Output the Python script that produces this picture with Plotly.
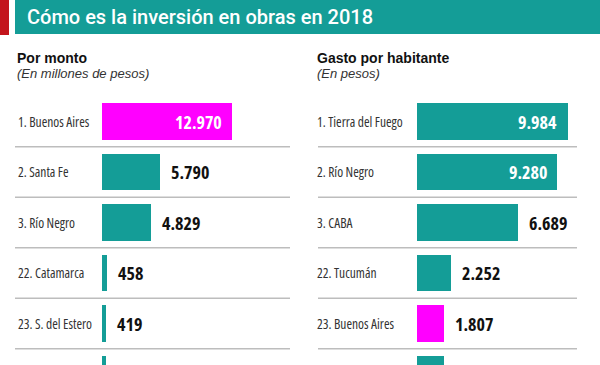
import plotly.graph_objects as go

# ---- data ----
monto_labels = ["1. Buenos Aires", "2. Santa Fe", "3. Río Negro", "22. Catamarca", "23. S. del Estero", "24."]
monto_values = [12970, 5790, 4829, 458, 419, 350]

hab_labels = ["1. Tierra del Fuego", "2. Río Negro", "3. CABA", "22. Tucumán", "23. Buenos Aires", "24."]
hab_values = [9984, 9280, 6689, 2252, 1807, 1780]

title_text = "Cómo es la inversión en obras en 2018"
left_head = "Por monto"
left_sub = "(En millones de pesos)"
right_head = "Gasto por habitante"
right_sub = "(En pesos)"

TEAL = "#149d97"
MAGENTA = "#ff00ff"
RED = "#c3151c"
W, H = 600, 365

COND_FONT = "Open Sans, sans-serif"


def cond(txt, pct="75%"):
    return f"<span style='font-stretch:{pct}'>{txt}</span>"


def fmt(v):
    return f"{v:,}".replace(",", ".")


def colors_for(labels):
    return [MAGENTA if "Buenos Aires" in l else TEAL for l in labels]


pos = list(range(len(monto_values)))

fig = go.Figure()
fig.add_trace(go.Bar(orientation="h", x=monto_values, y=pos, width=0.72,
                     marker=dict(color=colors_for(monto_labels), line=dict(width=0)),
                     xaxis="x", yaxis="y", hoverinfo="skip"))
fig.add_trace(go.Bar(orientation="h", x=hab_values, y=pos, width=0.72,
                     marker=dict(color=colors_for(hab_labels), line=dict(width=0)),
                     xaxis="x2", yaxis="y", hoverinfo="skip"))

# pixel geometry
pitch = 50.5
c0 = 121.5
y_top = -c0 / pitch
y_bot = (H - c0) / pitch

left_x0, left_x1 = 102, 290
right_x0, right_x1 = 416.7, 577
left_scale = 130.3 / 12970
right_scale = 150.6 / 9984

annotations = []
shapes = []

# title band
shapes.append(dict(type="rect", xref="paper", yref="paper", x0=0, x1=9 / W, y0=1 - 35 / H, y1=1,
                   fillcolor=RED, line=dict(width=0), layer="below"))
shapes.append(dict(type="rect", xref="paper", yref="paper", x0=15 / W, x1=1, y0=1 - 34 / H, y1=1,
                   fillcolor=TEAL, line=dict(width=0), layer="below"))
annotations.append(dict(text=title_text, xref="paper", yref="paper", x=25 / W, y=1 - 17.5 / H,
                        xanchor="left", yanchor="middle", showarrow=False,
                        font=dict(family="Roboto, Liberation Sans, sans-serif", size=20, color="white", weight=500)))

# headers
for hx, head, sub in [(15, left_head, left_sub), (315, right_head, right_sub)]:
    annotations.append(dict(text=head, xref="paper", yref="paper", x=hx / W, y=1 - 58 / H,
                            xanchor="left", yanchor="middle", showarrow=False,
                            font=dict(family="Liberation Sans, Arial, sans-serif", size=14, color="#111", weight="bold")))
    annotations.append(dict(text=f"<i>{sub}</i>", xref="paper", yref="paper", x=hx / W, y=1 - 73.5 / H,
                            xanchor="left", yanchor="middle", showarrow=False,
                            font=dict(family="Liberation Sans, Arial, sans-serif", size=13, color="#333")))

# separators
for i in range(len(pos) - 1):
    for x0, x1 in [(15, 290), (318, 577)]:
        shapes.append(dict(type="line", xref="paper", yref="y", x0=x0 / W, x1=x1 / W,
                           y0=i + 0.5, y1=i + 0.5, line=dict(color="#bdbdbd", width=1.5)))

# row labels and values
for labels, values, lx, xaxis, scale in [(monto_labels, monto_values, 16, "x", left_scale),
                                          (hab_labels, hab_values, 315, "x2", right_scale)]:
    for i, (lab, v) in enumerate(zip(labels, values)):
        annotations.append(dict(text=cond(lab), xref="paper", yref="y", x=lx / W, y=i,
                                xanchor="left", yanchor="middle", showarrow=False,
                                font=dict(family=COND_FONT, size=13.5, color="#333")))
        inside = v * scale > 120
        annotations.append(dict(text=cond(fmt(v)), xref=xaxis, yref="y", x=v, y=i,
                                xanchor="right" if inside else "left", yanchor="middle",
                                xshift=-8 if inside else 9, showarrow=False,
                                font=dict(family=COND_FONT, size=18,
                                          color="white" if inside else "#111", weight="bold")))

fig.update_layout(
    width=W, height=H,
    margin=dict(l=0, r=0, t=0, b=0),
    paper_bgcolor="white", plot_bgcolor="white",
    showlegend=False, bargap=0,
    xaxis=dict(domain=[left_x0 / W, left_x1 / W], range=[0, (left_x1 - left_x0) / left_scale],
               visible=False, fixedrange=True),
    xaxis2=dict(domain=[right_x0 / W, right_x1 / W], range=[0, (right_x1 - right_x0) / right_scale],
                visible=False, anchor="y", fixedrange=True),
    yaxis=dict(domain=[0, 1], range=[y_bot, y_top], visible=False, fixedrange=True),
    shapes=shapes,
    annotations=annotations,
)

fig.write_html("out.html", config={"displayModeBar": False},
               post_script="document.body.style.margin='0';")
